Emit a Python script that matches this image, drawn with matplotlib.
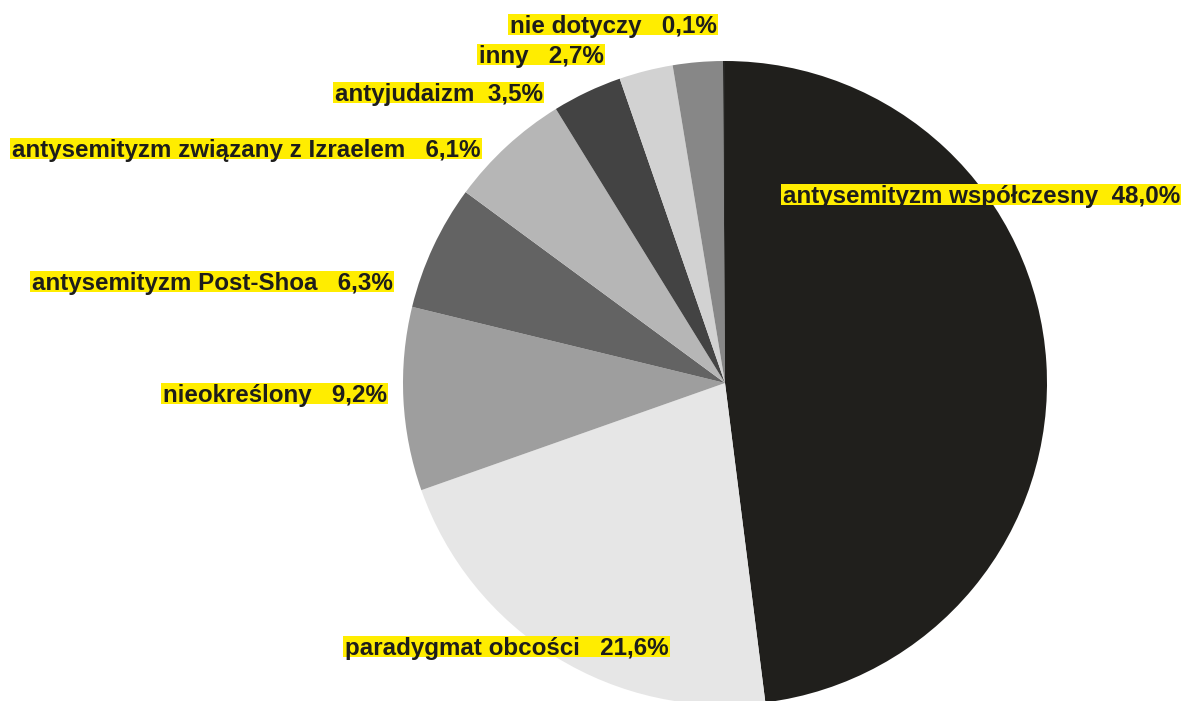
import matplotlib.pyplot as plt
from matplotlib.patches import Rectangle

# data, clockwise from the top
categories = [
    "antysemityzm współczesny",
    "paradygmat obcości",
    "nieokreślony",
    "antysemityzm Post-Shoa",
    "antysemityzm związany z Izraelem",
    "antyjudaizm",
    "inny",
    "",
    "nie dotyczy",
]
shares = [48.0, 21.6, 9.2, 6.3, 6.1, 3.5, 2.7, 2.5, 0.1]
gaps = [2, 3, 3, 3, 3, 2, 3, 0, 3]

colors = ["#201f1c", "#e6e6e6", "#9e9e9e", "#636363", "#b6b6b6",
          "#434343", "#d2d2d2", "#878787", "#262624"]

# label anchors in pixels (left edge of text, baseline, measured from top)
label_pos = [(783, 203), (345, 655), (163, 402), (32, 290), (12, 157),
             (335, 101), (479, 63), None, (510, 33)]

W, H = 1194, 701
fig = plt.figure(figsize=(W / 100, H / 100), dpi=100)
ax = fig.add_axes([0, 0, 1, 1])

ax.pie(shares, colors=colors, startangle=90, counterclock=False,
       center=(725, H - 383), radius=322,
       wedgeprops=dict(linewidth=0))
ax.set_xlim(0, W)
ax.set_ylim(0, H)
ax.set_aspect("auto")
ax.axis("off")

renderer = fig.canvas.get_renderer()
for name, val, gap, pos in zip(categories, shares, gaps, label_pos):
    if pos is None:
        continue
    txt = f"{name}{' ' * gap}{val:.1f}%".replace(".", ",")
    t = ax.text(pos[0], H - pos[1], txt, ha="left", va="baseline",
                fontsize=17.4, fontweight="bold", family="Liberation Sans",
                color="#1d1d1b", zorder=5)
    bb = t.get_window_extent(renderer)
    # yellow highlight from ascender top to just under the baseline
    ax.add_patch(Rectangle((bb.x0 - 2, H - pos[1] - 2), bb.width + 3, 21.5,
                           facecolor="#ffed00", edgecolor="none", zorder=4))

fig.savefig("out.png", dpi=100)
